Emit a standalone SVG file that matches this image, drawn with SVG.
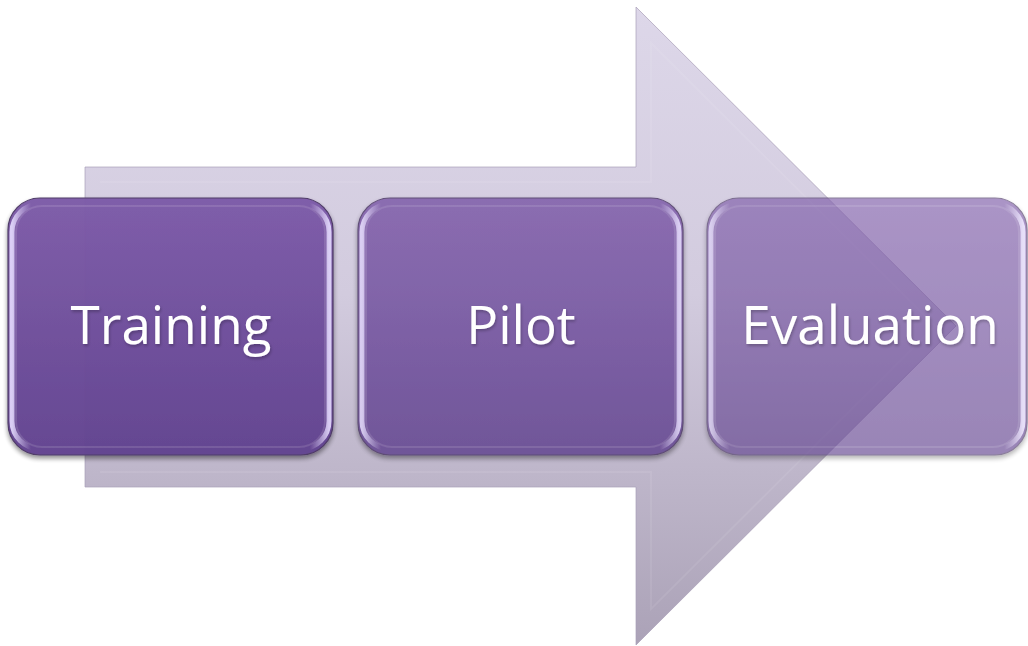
<svg xmlns="http://www.w3.org/2000/svg" width="1028" height="646" viewBox="0 0 1028 646">
  <defs>
    <linearGradient id="arrowFill" x1="0" y1="7" x2="0" y2="645" gradientUnits="userSpaceOnUse">
      <stop offset="0" stop-color="#ddd7e9"/>
      <stop offset="0.45" stop-color="#d2cbde"/>
      <stop offset="1" stop-color="#aba2b7"/>
    </linearGradient>
    <linearGradient id="boxFill" x1="0" y1="0" x2="0" y2="1">
      <stop offset="0" stop-color="#7e5ca9"/>
      <stop offset="1" stop-color="#634490"/>
    </linearGradient>
    <linearGradient id="sideGlow" x1="0" y1="0" x2="1" y2="0">
      <stop offset="0" stop-color="#e6dcff" stop-opacity="0.9"/>
      <stop offset="0.06" stop-color="#e6dcff" stop-opacity="0"/>
      <stop offset="0.94" stop-color="#e6dcff" stop-opacity="0"/>
      <stop offset="1" stop-color="#e6dcff" stop-opacity="0.9"/>
    </linearGradient>
    <filter id="shadow" x="-10%" y="-10%" width="120%" height="130%">
      <feGaussianBlur in="SourceAlpha" stdDeviation="2.5"/>
      <feOffset dx="0" dy="3" result="b"/>
      <feComponentTransfer><feFuncA type="linear" slope="0.45"/></feComponentTransfer>
      <feMerge><feMergeNode/><feMergeNode in="SourceGraphic"/></feMerge>
    </filter>
    <filter id="txtShadow" x="-10%" y="-20%" width="120%" height="140%">
      <feGaussianBlur in="SourceAlpha" stdDeviation="1.5"/>
      <feOffset dx="1" dy="2"/>
      <feComponentTransfer><feFuncA type="linear" slope="0.25"/></feComponentTransfer>
      <feMerge><feMergeNode/><feMergeNode in="SourceGraphic"/></feMerge>
    </filter>
  </defs>
  <style>
    .box { fill: url(#boxFill); stroke: #4d3a66; stroke-width: 1.2; }
    .glow { fill: none; stroke: url(#sideGlow); stroke-width: 5; }
    .inner { fill: none; stroke: #ffffff; stroke-opacity: 0.12; stroke-width: 2; }
    .label { font-family: "Open Sans", "Liberation Sans", sans-serif; font-size: 53px; fill: #ffffff; text-anchor: middle; }
  </style>
  <rect width="1028" height="646" fill="#ffffff"/>

  <g id="arrow">
    <path d="M85,167 L636,167 L636,7 L956,326 L636,645 L636,487 L85,487 Z" fill="url(#arrowFill)" stroke="#a9a0b8" stroke-width="1" stroke-opacity="0.7"/>
    <path d="M100,182 L651,182 L651,43 L935,326 L651,609 L651,472 L100,472" fill="none" stroke="#ffffff" stroke-opacity="0.08" stroke-width="2"/>
  </g>

  <g id="connectors"></g>

  <g id="node-training">
    <g opacity="0.98" filter="url(#shadow)">
      <rect class="box" x="8" y="198" width="325" height="257" rx="32"/>
      <rect class="glow" x="12" y="204" width="317" height="245" rx="28"/>
      <rect class="inner" x="16" y="206" width="309" height="241" rx="26"/>
    </g>
    <text class="label" x="171" y="344" filter="url(#txtShadow)">Training</text>
  </g>

  <g id="node-pilot">
    <g opacity="0.85" filter="url(#shadow)">
      <rect class="box" x="358" y="198" width="325" height="257" rx="32"/>
      <rect class="glow" x="362" y="204" width="317" height="245" rx="28"/>
      <rect class="inner" x="366" y="206" width="309" height="241" rx="26"/>
    </g>
    <text class="label" x="521" y="344" filter="url(#txtShadow)">Pilot</text>
  </g>

  <g id="node-evaluation">
    <g opacity="0.65" filter="url(#shadow)">
      <rect class="box" x="707" y="198" width="320" height="257" rx="32"/>
      <rect class="glow" x="711" y="204" width="312" height="245" rx="28"/>
      <rect class="inner" x="715" y="206" width="304" height="241" rx="26"/>
    </g>
    <text class="label" x="870" y="344" filter="url(#txtShadow)">Evaluation</text>
  </g>
</svg>
